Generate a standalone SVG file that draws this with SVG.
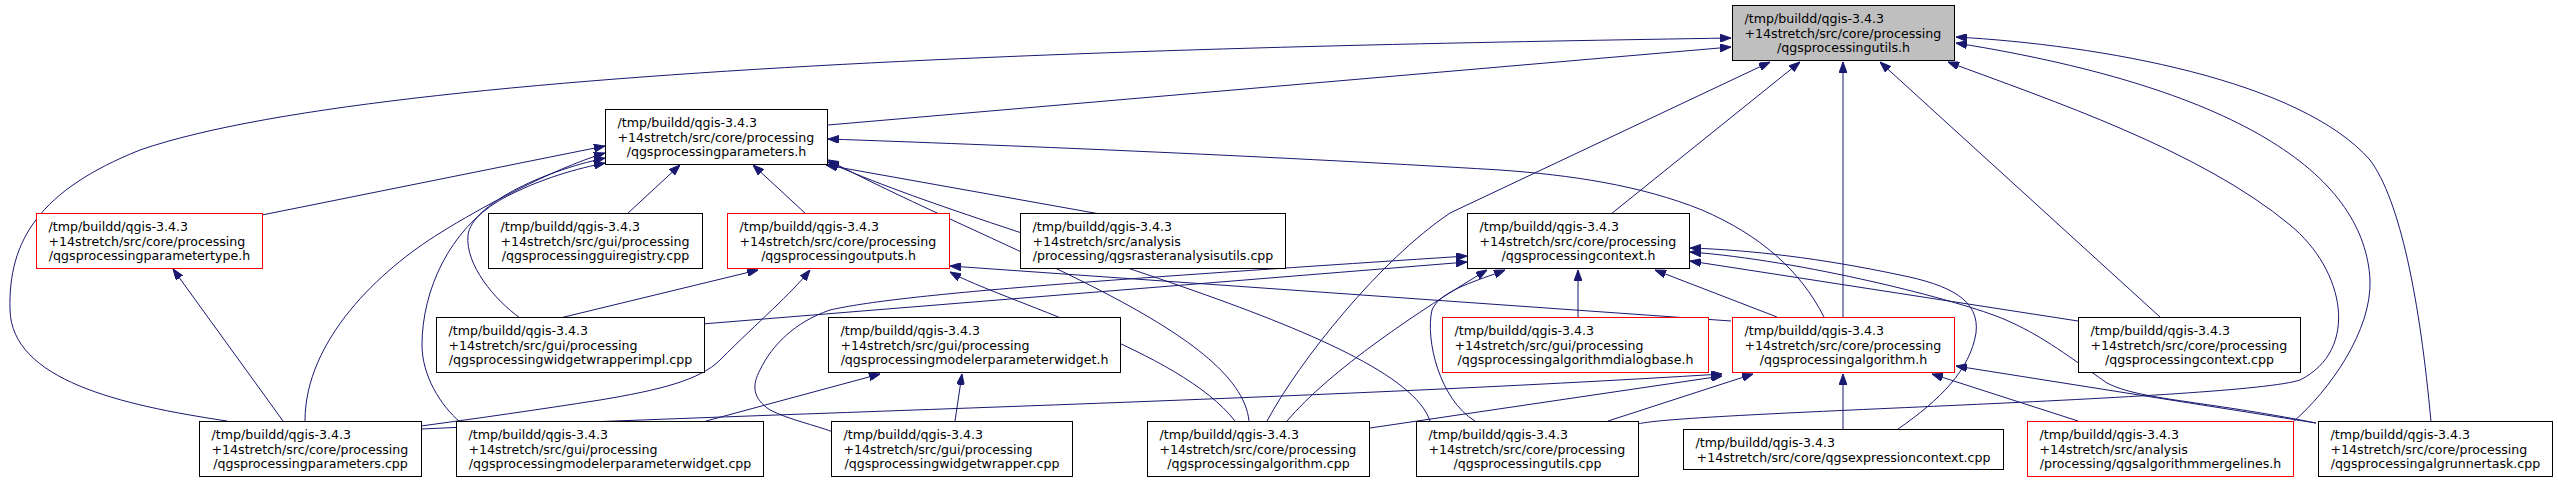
<svg xmlns="http://www.w3.org/2000/svg" width="2558" height="483" viewBox="0 0 2558 483">
<style>
.n rect{fill:#fff;stroke:#000;stroke-width:1}
.n.r rect{stroke:#f00}
.n.g rect{fill:#bfbfbf}
.n text{font-family:"DejaVu Sans",sans-serif;font-size:12.6px;fill:#000}
.e path{fill:none;stroke:#191970;stroke-width:1;marker-end:url(#ah)}
</style>
<defs>
<marker id="ah" markerUnits="userSpaceOnUse" markerWidth="11" markerHeight="8" viewBox="0 0 11 8" refX="11" refY="4" orient="auto"><path d="M0,0 L11,4 L0,8 z" fill="#191970" stroke="#191970" stroke-width="1"/></marker>
</defs>
<g id="edges" class="e">
<path d="M828,125 L1731,47"/>
<path d="M227,421 C120,405 12,380 10,310 C8,240 40,190 140,150 C400,60 1300,45 1731,38"/>
<path d="M1267,421 C1300,360 1380,260 1450,213 L1770,62"/>
<path d="M1611,214 L1800,62"/>
<path d="M1843,317 L1843,62"/>
<path d="M2160,317 L1880,62"/>
<path d="M1638,424 C1680,412 2240,400 2300,380 C2360,350 2345,270 2290,225 C2200,150 2050,100 1948,62"/>
<path d="M2293,422 C2330,390 2372,330 2370,280 C2365,180 2250,90 1956,43"/>
<path d="M2431,422 C2420,300 2400,200 2370,160 C2300,80 2100,45 1956,37"/>
<path d="M262,215 L605,146"/>
<path d="M627,214 L680,165"/>
<path d="M806,214 L753,165"/>
<path d="M1100,214 L826,165"/>
<path d="M520,318 C495,300 465,265 468,235 C472,205 540,172 605,158"/>
<path d="M460,422 C440,405 422,375 422,345 C422,290 450,230 500,200 C540,178 580,168 605,163"/>
<path d="M283,421 L173,269"/>
<path d="M305,421 C305,340 380,270 440,233 C480,208 550,170 605,153"/>
<path d="M1824,317 C1800,270 1760,235 1702,210 C1640,185 1570,175 1500,170 C1250,155 1000,145 828,139"/>
<path d="M1249,421 C1240,330 1000,250 828,160"/>
<path d="M1430,421 C1400,330 1000,240 828,162"/>
<path d="M1731,321 L950,266"/>
<path d="M1235,421 C1180,350 1000,300 950,272"/>
<path d="M560,318 L758,270"/>
<path d="M421,426 C480,418 536,410 600,400 C660,390 700,380 720,360 C760,320 790,295 810,270"/>
<path d="M702,324 L1467,262"/>
<path d="M833,432 C815,425 790,420 770,410 C752,398 752,385 760,370 C772,345 795,322 830,310 C900,294 1100,280 1467,256"/>
<path d="M1287,421 C1330,370 1420,310 1487,270"/>
<path d="M1475,421 C1440,400 1425,340 1432,310 C1440,290 1480,280 1505,270"/>
<path d="M1578,317 L1578,270"/>
<path d="M1777,317 L1655,270"/>
<path d="M2078,321 L1690,261"/>
<path d="M1898,429 C1940,400 1970,370 1976,333 C1980,300 1950,285 1900,275 C1820,258 1750,250 1690,248"/>
<path d="M2316,423 C2200,400 2140,400 2107,383 C2060,350 2040,335 2006,320 C1960,300 1800,260 1690,252"/>
<path d="M1608,421 L1753,374"/>
<path d="M2078,421 L1932,374"/>
<path d="M2316,423 L1956,366"/>
<path d="M1843,429 L1843,374"/>
<path d="M421,429 C800,412 1300,400 1722,374"/>
<path d="M1370,428 L1722,376"/>
<path d="M955,421 L962,374"/>
<path d="M706,421 L880,374"/>
</g>
<g id="n_utils_h" class="n g"><rect x="1732.5" y="5.5" width="222" height="55"/><text x="1744.5" y="23">/tmp/buildd/qgis-3.4.3</text><text x="1744.5" y="37.5">+14stretch/src/core/processing</text><text x="1843.5" y="52" text-anchor="middle">/qgsprocessingutils.h</text></g>
<g id="n_parameters_h" class="n"><rect x="605.5" y="109.5" width="222" height="55"/><text x="617.5" y="127">/tmp/buildd/qgis-3.4.3</text><text x="617.5" y="141.5">+14stretch/src/core/processing</text><text x="716.5" y="156" text-anchor="middle">/qgsprocessingparameters.h</text></g>
<g id="n_parametertype_h" class="n r"><rect x="36.5" y="213.5" width="226" height="55"/><text x="48.5" y="231">/tmp/buildd/qgis-3.4.3</text><text x="48.5" y="245.5">+14stretch/src/core/processing</text><text x="149.5" y="260" text-anchor="middle">/qgsprocessingparametertype.h</text></g>
<g id="n_guiregistry_cpp" class="n"><rect x="488.5" y="213.5" width="214" height="55"/><text x="500.5" y="231">/tmp/buildd/qgis-3.4.3</text><text x="500.5" y="245.5">+14stretch/src/gui/processing</text><text x="595.5" y="260" text-anchor="middle">/qgsprocessingguiregistry.cpp</text></g>
<g id="n_outputs_h" class="n r"><rect x="727.5" y="213.5" width="222" height="55"/><text x="739.5" y="231">/tmp/buildd/qgis-3.4.3</text><text x="739.5" y="245.5">+14stretch/src/core/processing</text><text x="838.5" y="260" text-anchor="middle">/qgsprocessingoutputs.h</text></g>
<g id="n_rasteranalysisutils_cpp" class="n"><rect x="1020.5" y="213.5" width="265" height="55"/><text x="1032.5" y="231">/tmp/buildd/qgis-3.4.3</text><text x="1032.5" y="245.5">+14stretch/src/analysis</text><text x="1153" y="260" text-anchor="middle">/processing/qgsrasteranalysisutils.cpp</text></g>
<g id="n_context_h" class="n"><rect x="1467.5" y="213.5" width="222" height="55"/><text x="1479.5" y="231">/tmp/buildd/qgis-3.4.3</text><text x="1479.5" y="245.5">+14stretch/src/core/processing</text><text x="1578.5" y="260" text-anchor="middle">/qgsprocessingcontext.h</text></g>
<g id="n_widgetwrapperimpl_cpp" class="n"><rect x="436.5" y="317.5" width="268" height="55"/><text x="448.5" y="335">/tmp/buildd/qgis-3.4.3</text><text x="448.5" y="349.5">+14stretch/src/gui/processing</text><text x="570.5" y="364" text-anchor="middle">/qgsprocessingwidgetwrapperimpl.cpp</text></g>
<g id="n_modelerparameterwidget_h" class="n"><rect x="828.5" y="317.5" width="292" height="55"/><text x="840.5" y="335">/tmp/buildd/qgis-3.4.3</text><text x="840.5" y="349.5">+14stretch/src/gui/processing</text><text x="974.5" y="364" text-anchor="middle">/qgsprocessingmodelerparameterwidget.h</text></g>
<g id="n_algorithmdialogbase_h" class="n r"><rect x="1442.5" y="317.5" width="266" height="55"/><text x="1454.5" y="335">/tmp/buildd/qgis-3.4.3</text><text x="1454.5" y="349.5">+14stretch/src/gui/processing</text><text x="1575.5" y="364" text-anchor="middle">/qgsprocessingalgorithmdialogbase.h</text></g>
<g id="n_algorithm_h" class="n r"><rect x="1732.5" y="317.5" width="222" height="55"/><text x="1744.5" y="335">/tmp/buildd/qgis-3.4.3</text><text x="1744.5" y="349.5">+14stretch/src/core/processing</text><text x="1843.5" y="364" text-anchor="middle">/qgsprocessingalgorithm.h</text></g>
<g id="n_context_cpp" class="n"><rect x="2078.5" y="317.5" width="222" height="55"/><text x="2090.5" y="335">/tmp/buildd/qgis-3.4.3</text><text x="2090.5" y="349.5">+14stretch/src/core/processing</text><text x="2189.5" y="364" text-anchor="middle">/qgsprocessingcontext.cpp</text></g>
<g id="n_parameters_cpp" class="n"><rect x="199.5" y="421.5" width="222" height="55"/><text x="211.5" y="439">/tmp/buildd/qgis-3.4.3</text><text x="211.5" y="453.5">+14stretch/src/core/processing</text><text x="310.5" y="468" text-anchor="middle">/qgsprocessingparameters.cpp</text></g>
<g id="n_modelerparameterwidget_cpp" class="n"><rect x="456.5" y="421.5" width="307" height="55"/><text x="468.5" y="439">/tmp/buildd/qgis-3.4.3</text><text x="468.5" y="453.5">+14stretch/src/gui/processing</text><text x="610" y="468" text-anchor="middle">/qgsprocessingmodelerparameterwidget.cpp</text></g>
<g id="n_widgetwrapper_cpp" class="n"><rect x="831.5" y="421.5" width="241" height="55"/><text x="843.5" y="439">/tmp/buildd/qgis-3.4.3</text><text x="843.5" y="453.5">+14stretch/src/gui/processing</text><text x="952" y="468" text-anchor="middle">/qgsprocessingwidgetwrapper.cpp</text></g>
<g id="n_algorithm_cpp" class="n"><rect x="1147.5" y="421.5" width="222" height="55"/><text x="1159.5" y="439">/tmp/buildd/qgis-3.4.3</text><text x="1159.5" y="453.5">+14stretch/src/core/processing</text><text x="1258.5" y="468" text-anchor="middle">/qgsprocessingalgorithm.cpp</text></g>
<g id="n_utils_cpp" class="n"><rect x="1416.5" y="421.5" width="222" height="55"/><text x="1428.5" y="439">/tmp/buildd/qgis-3.4.3</text><text x="1428.5" y="453.5">+14stretch/src/core/processing</text><text x="1527.5" y="468" text-anchor="middle">/qgsprocessingutils.cpp</text></g>
<g id="n_expressioncontext_cpp" class="n"><rect x="1683.5" y="429.5" width="320" height="40"/><text x="1695.5" y="447">/tmp/buildd/qgis-3.4.3</text><text x="1843.5" y="461.5" text-anchor="middle">+14stretch/src/core/qgsexpressioncontext.cpp</text></g>
<g id="n_mergelines_h" class="n r"><rect x="2027.5" y="421.5" width="266" height="55"/><text x="2039.5" y="439">/tmp/buildd/qgis-3.4.3</text><text x="2039.5" y="453.5">+14stretch/src/analysis</text><text x="2160.5" y="468" text-anchor="middle">/processing/qgsalgorithmmergelines.h</text></g>
<g id="n_algrunnertask_cpp" class="n"><rect x="2318.5" y="421.5" width="234" height="55"/><text x="2330.5" y="439">/tmp/buildd/qgis-3.4.3</text><text x="2330.5" y="453.5">+14stretch/src/core/processing</text><text x="2435.5" y="468" text-anchor="middle">/qgsprocessingalgrunnertask.cpp</text></g>
</svg>
